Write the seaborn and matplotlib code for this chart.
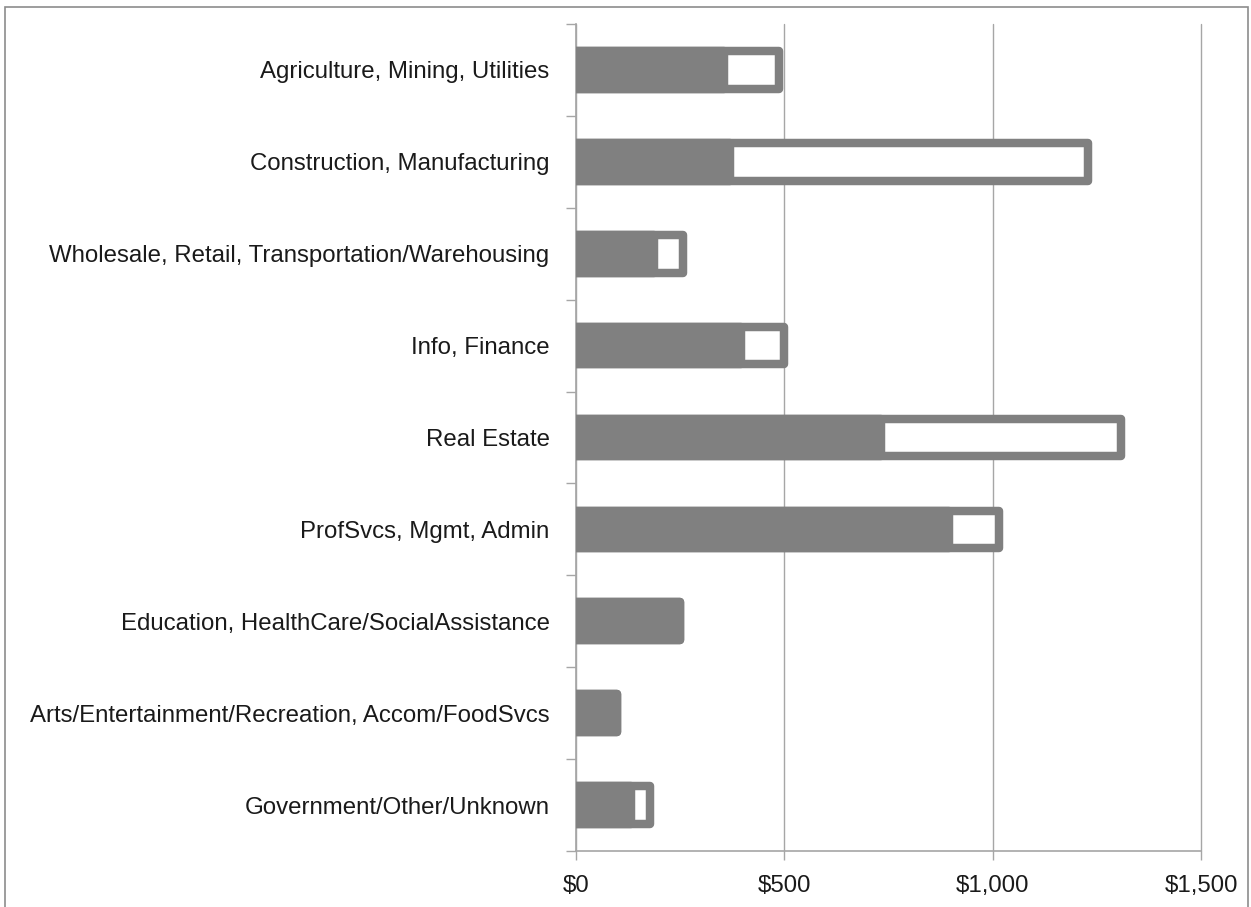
import matplotlib
matplotlib.use("Agg")
import matplotlib.pyplot as plt
import matplotlib.patches as mpatches
from matplotlib.ticker import FuncFormatter, FixedLocator
import seaborn as sns
import pandas as pd

# Industry groups, top to bottom
categories = [
    "Agriculture, Mining, Utilities",
    "Construction, Manufacturing",
    "Wholesale, Retail, Transportation/Warehousing",
    "Info, Finance",
    "Real Estate",
    "ProfSvcs, Mgmt, Admin",
    "Education, HealthCare/SocialAssistance",
    "Arts/Entertainment/Recreation, Accom/FoodSvcs",
    "Government/Other/Unknown",
]
# Full amount per group (outlined bar) and the portion drawn solid
total_values = [486, 1228, 256, 498, 1307, 1015, 250, 99, 178]
part_values = [356, 370, 186, 395, 732, 895, 250, 99, 131]
x_ticks = [0, 500, 1000, 1500]

df = pd.DataFrame({"category": categories, "total": total_values, "part": part_values})

sns.set_style("white")
plt.rcParams["font.family"] = ["Liberation Sans", "DejaVu Sans"]

BAR = "#808080"
AXIS = "#a6a6a6"
TEXT = "#1a1a1a"

fig = plt.figure(figsize=(12.51, 9.07), dpi=100)
ax = fig.add_axes([576 / 1251, 1 - 851 / 907, 625 / 1251, 827 / 907])

# Outlined bar spanning the full amount
sns.barplot(data=df, x="total", y="category", order=categories, orient="h",
            color="white", edgecolor=BAR, linewidth=6.1, width=0.41,
            saturation=1, ax=ax, zorder=3)
# Solid portion on top
sns.barplot(data=df, x="part", y="category", order=categories, orient="h",
            color=BAR, edgecolor=BAR, linewidth=6.1, width=0.41,
            saturation=1, ax=ax, zorder=4)
for p in ax.patches:
    p.set_joinstyle("round")

ax.set_xlim(0, 1500)
ax.set_ylim(len(categories) - 0.5, -0.5)
ax.set_xlabel("")
ax.set_ylabel("")

ax.xaxis.set_major_locator(FixedLocator(x_ticks))
ax.xaxis.set_major_formatter(FuncFormatter(lambda v, _: f"${v:,.0f}"))
ax.grid(axis="x", color=AXIS, linewidth=1.0, zorder=0)
ax.grid(axis="y", visible=False)
ax.set_axisbelow(True)
for line in ax.get_xgridlines():
    line.set_clip_on(False)

for side in ("top", "right"):
    ax.spines[side].set_visible(False)
for side in ("left", "bottom"):
    ax.spines[side].set_color(AXIS)
    ax.spines[side].set_linewidth(1.2)

ax.tick_params(axis="x", which="major", bottom=True, length=6.5, width=1.0,
               color=AXIS, labelsize=17.3, labelcolor=TEXT, pad=11)
ax.tick_params(axis="y", which="major", left=False, length=0, labelsize=17.3,
               labelcolor=TEXT, pad=19)
ax.yaxis.set_minor_locator(FixedLocator([i - 0.5 for i in range(len(categories) + 1)]))
ax.tick_params(axis="y", which="minor", left=True, length=7.2, width=1.0, color=AXIS)

# Thin frame around the chart area
fig.patches.append(mpatches.Rectangle((5 / 1251, -0.01), 1243 / 1251, 1 - 7 / 907 + 0.01,
                                      transform=fig.transFigure, fill=False,
                                      edgecolor="#8c8c8c", linewidth=1.2))

fig.savefig("out.png", dpi=100, facecolor="white")
